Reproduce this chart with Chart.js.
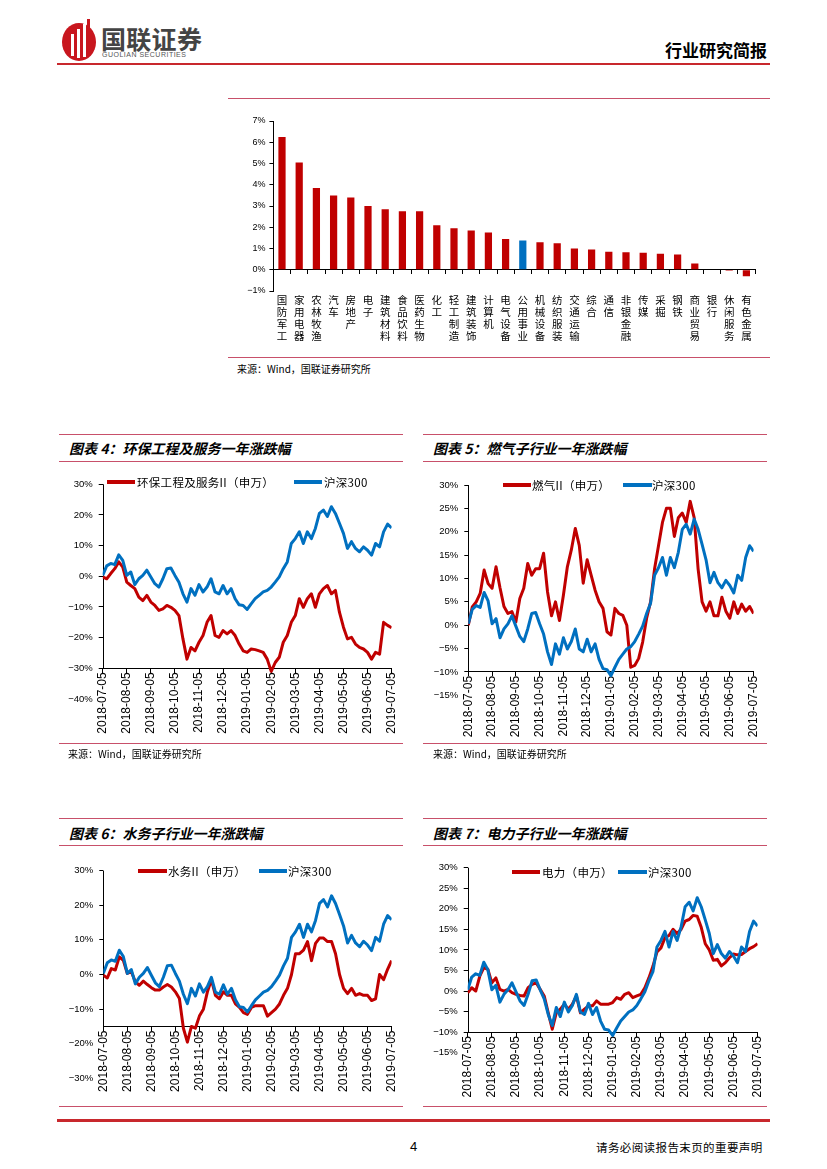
<!DOCTYPE html>
<html>
<head>
<meta charset="utf-8">
<script src="https://cdn.jsdelivr.net/npm/chart.js@4.4.1/dist/chart.umd.min.js"></script>
<style>
  body { margin: 0; background: #fff; }
  #page { position: relative; width: 827px; height: 1169px; overflow: hidden; font-family: "Noto Sans CJK SC", sans-serif; color: #000; }
  .hl { position: absolute; height: 0; border-top: 1.4px solid #c8506a; }
  .title { position: absolute; font-size: 14px; font-weight: 700; font-style: italic; white-space: nowrap; line-height: 16px; }
  .src { position: absolute; font-size: 10px; white-space: nowrap; line-height: 12px; }
  .sw { position: absolute; height: 3.5px; }
  .lt { position: absolute; font-size: 11.5px; white-space: nowrap; line-height: 14px; letter-spacing: 0.3px; }
  canvas { position: absolute; }
</style>
</head>
<body>
<div id="page">
  <!-- header -->
  <svg style="position:absolute;left:60px;top:18px" width="40" height="44" viewBox="0 0 40 44">
    <ellipse cx="19" cy="24" rx="17" ry="19" fill="#c8161e"/>
    <rect x="11" y="16" width="3" height="22" fill="#fff"/>
    <rect x="17" y="11" width="3" height="29" fill="#fff"/>
    <rect x="23" y="6" width="3" height="33" fill="#fff"/>
    <rect x="27" y="1" width="3" height="14" fill="#c8161e"/>
  </svg>
  <div style="position:absolute;left:101px;top:24px;font-size:25px;font-weight:700;color:#444;line-height:28px;letter-spacing:0.3px">国联证券</div>
  <div style="position:absolute;left:102px;top:51px;font-family:'Liberation Sans';font-size:7px;color:#555;line-height:8px;letter-spacing:0.5px">GUOLIAN SECURITIES</div>
  <div style="position:absolute;left:665px;top:40px;font-size:17px;font-weight:700;line-height:20px">行业研究简报</div>
  <div style="position:absolute;left:57px;top:63px;width:713px;height:2px;background:#c8282d"></div>

  <!-- bar chart block -->
  <div class="hl" style="left:228px;top:98px;width:542px"></div>
  <canvas id="barChart" width="540" height="245" style="left:226px;top:110px"></canvas>
  <div class="hl" style="left:228px;top:357px;width:542px"></div>
  <div class="src" style="left:237px;top:363px">来源：Wind，国联证券研究所</div>

  <!-- chart 4 -->
  <div class="hl" style="left:59px;top:434px;width:344px"></div>
  <div class="title" style="left:69px;top:440px">图表 4：环保工程及服务一年涨跌幅</div>
  <div class="hl" style="left:59px;top:461px;width:344px"></div>
  <canvas id="c4" width="350" height="272" style="left:56px;top:472px"></canvas>
  <div class="sw" style="left:107px;top:480px;width:28px;background:#c00000"></div>
  <div class="lt" style="left:137px;top:475px">环保工程及服务II（申万）</div>
  <div class="sw" style="left:294px;top:480px;width:28px;background:#0070c0"></div>
  <div class="lt" style="left:324px;top:475px">沪深300</div>
  <div class="hl" style="left:59px;top:743px;width:344px"></div>
  <div class="src" style="left:68px;top:748px">来源：Wind，国联证券研究所</div>

  <!-- chart 5 -->
  <div class="hl" style="left:423px;top:434px;width:344px"></div>
  <div class="title" style="left:433px;top:440px">图表 5：燃气子行业一年涨跌幅</div>
  <div class="hl" style="left:423px;top:461px;width:344px"></div>
  <canvas id="c5" width="348" height="272" style="left:420px;top:472px"></canvas>
  <div class="sw" style="left:503px;top:483px;width:28px;background:#c00000"></div>
  <div class="lt" style="left:532px;top:478px">燃气II（申万）</div>
  <div class="sw" style="left:623px;top:483px;width:29px;background:#0070c0"></div>
  <div class="lt" style="left:652px;top:478px">沪深300</div>
  <div class="hl" style="left:423px;top:743px;width:344px"></div>
  <div class="src" style="left:433px;top:748px">来源：Wind，国联证券研究所</div>

  <!-- chart 6 -->
  <div class="hl" style="left:59px;top:818px;width:344px"></div>
  <div class="title" style="left:69px;top:825px">图表 6：水务子行业一年涨跌幅</div>
  <div class="hl" style="left:59px;top:845px;width:344px"></div>
  <canvas id="c6" width="350" height="240" style="left:56px;top:858px"></canvas>
  <div class="sw" style="left:138px;top:869px;width:29px;background:#c00000"></div>
  <div class="lt" style="left:168px;top:864px">水务II（申万）</div>
  <div class="sw" style="left:259px;top:869px;width:28px;background:#0070c0"></div>
  <div class="lt" style="left:288px;top:864px">沪深300</div>
  <div class="hl" style="left:59px;top:1106px;width:344px"></div>

  <!-- chart 7 -->
  <div class="hl" style="left:423px;top:818px;width:344px"></div>
  <div class="title" style="left:433px;top:825px">图表 7：电力子行业一年涨跌幅</div>
  <div class="hl" style="left:423px;top:845px;width:344px"></div>
  <canvas id="c7" width="352" height="242" style="left:420px;top:856px"></canvas>
  <div class="sw" style="left:512px;top:870px;width:28px;background:#c00000"></div>
  <div class="lt" style="left:542px;top:865px">电力（申万）</div>
  <div class="sw" style="left:618px;top:870px;width:29px;background:#0070c0"></div>
  <div class="lt" style="left:648px;top:865px">沪深300</div>
  <div class="hl" style="left:423px;top:1106px;width:344px"></div>

  <!-- footer -->
  <div style="position:absolute;left:57px;top:1119px;width:713px;height:2.5px;background:#c8282d"></div>
  <div style="position:absolute;left:410px;top:1139px;font-family:'Liberation Sans';font-size:13px;line-height:15px">4</div>
  <div style="position:absolute;left:596px;top:1140px;font-size:11.5px;line-height:14px;letter-spacing:0.4px">请务必阅读报告末页的重要声明</div>
</div>

<script>
const RED = "#c00000";
const BLUE = "#0070c0";

// industry returns (bar chart)
const industries = ["国防军工", "家用电器", "农林牧渔", "汽车", "房地产", "电子", "建筑材料", "食品饮料", "医药生物", "化工",
  "轻工制造", "建筑装饰", "计算机", "电气设备", "公用事业", "机械设备", "纺织服装", "交通运输", "综合", "通信",
  "非银金融", "传媒", "采掘", "钢铁", "商业贸易", "银行", "休闲服务", "有色金属"];
const industryChange = [6.25, 5.05, 3.85, 3.5, 3.4, 3.0, 2.85, 2.75, 2.75, 2.1,
  1.95, 1.85, 1.75, 1.45, 1.38, 1.3, 1.25, 1.0, 0.95, 0.85,
  0.82, 0.8, 0.75, 0.72, 0.3, 0.02, -0.05, -0.3];
const highlight = "公用事业";

// month ticks of the line charts, 6 readings per month
const monthTicks = ["2018-07-05", "2018-08-05", "2018-09-05", "2018-10-05", "2018-11-05", "2018-12-05",
  "2019-01-05", "2019-02-05", "2019-03-05", "2019-04-05", "2019-05-05", "2019-06-05", "2019-07-05"];
const PER_MONTH = 6;

const hs300 = [0.3, 3.4, 4.2, 3.8, 7.0, 5.2, 0.3, 1.4, -2.7, -0.8,
  0.3, 2.0, -0.2, -2.4, -3.5, -0.8, 2.5, 2.7, 0.3, -1.9,
  -5.7, -8.4, -4.0, -6.2, -2.7, -5.1, -3.5, -0.8, -5.1, -5.7,
  -3.0, -5.7, -4.0, -7.3, -9.3, -9.5, -10.8, -9.0, -7.3, -6.2,
  -5.1, -4.6, -3.5, -1.9, -0.2, 2.5, 4.7, 10.7, 12.3, 14.5,
  10.7, 14.5, 12.3, 15.6, 20.5, 21.6, 19.5, 22.7, 20.5, 17.3,
  14.0, 9.1, 11.3, 9.1, 8.0, 9.6, 8.5, 6.9, 10.7, 9.6,
  14.5, 17.0, 15.8];

const envProtect = [-0.2, -0.8, 0.9, 2.5, 4.7, 3.0, -1.9, -3.0, -4.0, -6.8,
  -7.9, -6.2, -8.4, -9.5, -11.1, -10.6, -9.5, -10.1, -11.1, -12.8,
  -20.4, -27.0, -23.2, -24.3, -21.5, -19.3, -15.0, -12.8, -19.3, -19.9,
  -17.7, -18.8, -17.7, -19.3, -22.1, -24.3, -24.8, -23.7, -23.9, -24.3,
  -24.8, -27.0, -31.0, -28.1, -26.4, -21.5, -19.3, -15.0, -12.8, -7.3,
  -10.1, -7.3, -5.7, -10.1, -5.7, -4.0, -3.0, -5.7, -4.6, -11.7,
  -16.6, -20.4, -19.9, -22.1, -23.2, -23.7, -24.8, -27.0, -24.8, -25.4,
  -15.0, -16.0, -16.8];

const gas = [0, 3.9, 5.0, 6.8, 11.8, 8.9, 7.9, 12.5, 8.0, 4.0,
  2.5, 2.9, 0.7, 5.7, 7.9, 13.2, 10.7, 12.1, 12.1, 15.4,
  7.1, 2.0, 5.0, 1.0, 6.4, 12.5, 16.1, 20.7, 17.1, 9.0,
  14.0, 10.7, 7.5, 5.0, 3.6, -1.4, -2.1, 3.6, 2.5, 2.1,
  0, -9.0, -8.6, -7.1, -3.6, 1.5, 5.0, 12.0, 17.0, 22.0,
  25.0, 25.0, 19.0, 23.0, 24.0, 22.0, 26.5, 23.0, 12.0, 5.0,
  3.0, 5.0, 2.0, 2.0, 6.0, 3.0, 1.5, 5.0, 2.5, 4.5,
  3.0, 4.0, 2.5];

const water = [-0.2, -1.0, 1.7, 1.3, 5.1, 4.1, 0.3, 0.8, -2.1, -3.1,
  -1.9, -2.9, -3.8, -4.5, -4.5, -3.6, -2.9, -3.6, -5.0, -6.9,
  -15.5, -19.5, -15.0, -15.5, -12.0, -10.0, -5.0, -1.5, -6.0, -7.0,
  -5.0, -6.0, -6.0, -8.5, -9.5, -11.0, -11.5, -9.5, -9.0, -9.0,
  -9.0, -12.0, -11.0, -10.0, -8.5, -6.0, -4.0, 0, 6.0, 6.0,
  7.0, 9.5, 4.0, 9.0, 10.5, 10.5, 9.5, 9.5, 6.0, 0,
  -4.0, -5.5, -4.0, -6.0, -5.5, -6.0, -6.0, -7.5, -7.0, 0,
  -1.5, 1.5, 4.0];

const power = [-0.4, 0.8, 0, 3.6, 5.7, 5.3, 2.0, 3.2, 0.4, 0,
  0.4, -0.4, -0.8, -1.1, -1.2, 0.8, 1.6, 2.0, 0.4, -1.2,
  -5.3, -9.3, -5.3, -4.4, -3.2, -4.4, -3.2, -1.2, -5.3, -4.4,
  -3.6, -3.6, -2.4, -3.2, -3.2, -3.2, -2.8, -1.6, -2.0, -0.8,
  -0.4, -1.6, -1.2, -0.8, 0.8, 3.2, 6.0, 9.5, 10.5, 13.0,
  13.5, 15.0, 14.0, 15.0, 17.0, 17.4, 18.4, 18.2, 15.5, 11.5,
  10.0, 7.5, 7.7, 6.1, 6.9, 8.1, 9.0, 8.8, 8.9, 9.6,
  10.3, 10.8, 11.5];

Chart.defaults.font.family = "'Liberation Sans', Arial, sans-serif";
Chart.defaults.color = "#000";

const pct = (v) => (v < 0 ? "\u2212" + (-v) : v) + "%";

// bar chart
new Chart(document.getElementById("barChart"), {
  type: "bar",
  data: {
    labels: industries.map((s) => s.split("")),
    datasets: [{
      data: industryChange,
      backgroundColor: industries.map((n) => (n === highlight ? BLUE : RED)),
      barPercentage: 0.42,
      categoryPercentage: 1,
    }],
  },
  options: {
    responsive: false,
    animation: false,
    layout: { padding: { left: 0, top: 11, right: 11, bottom: 4 } },
    plugins: { legend: { display: false }, tooltip: { enabled: false } },
    scales: {
      x: {
        offset: true,
        border: { display: false },
        grid: { display: false },
        ticks: {
          autoSkip: false, maxRotation: 0, minRotation: 0, padding: -5,
          font: { family: "'Noto Sans CJK SC'", size: 10.5, lineHeight: 1.14 },
        },
        afterFit: (s) => { s.height = 60; },
      },
      x2: {
        type: "category",
        position: { y: 0 },
        offset: true,
        grid: { offset: true, drawOnChartArea: false, tickLength: 4, color: "#000" },
        border: { color: "#000" },
        ticks: { display: false },
      },
      y: {
        min: -1, max: 7,
        ticks: { stepSize: 1, callback: pct, padding: 4, font: { size: 9 } },
        grid: { drawOnChartArea: false, tickLength: 4, color: "#000" },
        border: { color: "#000" },
        afterFit: (s) => { s.width = 47.4; },
      },
    },
  },
});

// y axis line drawn only down to where the x axis crosses
const yAxisLine = {
  id: "yAxisLine",
  beforeDatasetsDraw(chart, args, opts) {
    const { ctx, chartArea, scales } = chart;
    const yb = scales.y.getPixelForValue(opts.cross);
    const x = Math.round(chartArea.left) + 0.5;
    ctx.save();
    ctx.strokeStyle = "#000";
    ctx.lineWidth = 1;
    ctx.beginPath();
    ctx.moveTo(x, chartArea.top);
    ctx.lineTo(x, yb);
    ctx.stroke();
    ctx.restore();
  },
};

function lineChart(id, series, yMin, yMax, step, cross, box) {
  const toPts = (arr) => arr.map((v, i) => ({ x: i / PER_MONTH, y: v }));
  return new Chart(document.getElementById(id), {
    type: "line",
    data: {
      datasets: [
        { data: toPts(hs300), borderColor: BLUE, borderWidth: 3, order: 0 },
        { data: toPts(series), borderColor: RED, borderWidth: 3, order: 1 },
      ],
    },
    options: {
      responsive: false,
      animation: false,
      elements: { point: { radius: 0 }, line: { tension: 0, borderJoinStyle: "round" } },
      layout: { padding: { left: 0, top: box.top, right: box.right, bottom: box.bottom } },
      plugins: { legend: { display: false }, tooltip: { enabled: false }, yAxisLine: { cross: cross } },
      scales: {
        x: {
          type: "linear",
          min: 0, max: monthTicks.length - 1,
          position: { y: cross },
          afterBuildTicks: (s) => { s.ticks = monthTicks.map((_, i) => ({ value: i })); },
          ticks: {
            autoSkip: false, minRotation: 90, maxRotation: 90, padding: 0,
            font: { size: 12 },
            callback: (v) => monthTicks[Math.round(v)],
          },
          grid: { drawOnChartArea: false, tickLength: 4, color: "#000" },
          border: { color: "#000" },
        },
        y: {
          min: yMin, max: yMax,
          ticks: { stepSize: step, callback: pct, padding: 6, font: { size: 9.5 } },
          grid: {
            drawOnChartArea: false, tickLength: 4,
            color: "#000",
            tickColor: (c) => (c.tick && c.tick.value < cross ? "rgba(0,0,0,0)" : "#000"),
          },
          border: { display: false },
          afterFit: (s) => { s.width = box.left; },
        },
      },
    },
    plugins: [yAxisLine],
  });
}

lineChart("c4", envProtect, -40, 30, 10, -30, { left: 46.7, top: 12.3, right: 12, bottom: 45 });
lineChart("c5", gas, -15, 30, 5, -10, { left: 48.3, top: 13, right: 13, bottom: 48.7 });
lineChart("c6", water, -30, 30, 10, -15, { left: 47.3, top: 12.5, right: 13.3, bottom: 19.5 });
lineChart("c7", power, -15, 30, 5, -10, { left: 47.7, top: 11.3, right: 12.7, bottom: 45.3 });
</script>
</body>
</html>
